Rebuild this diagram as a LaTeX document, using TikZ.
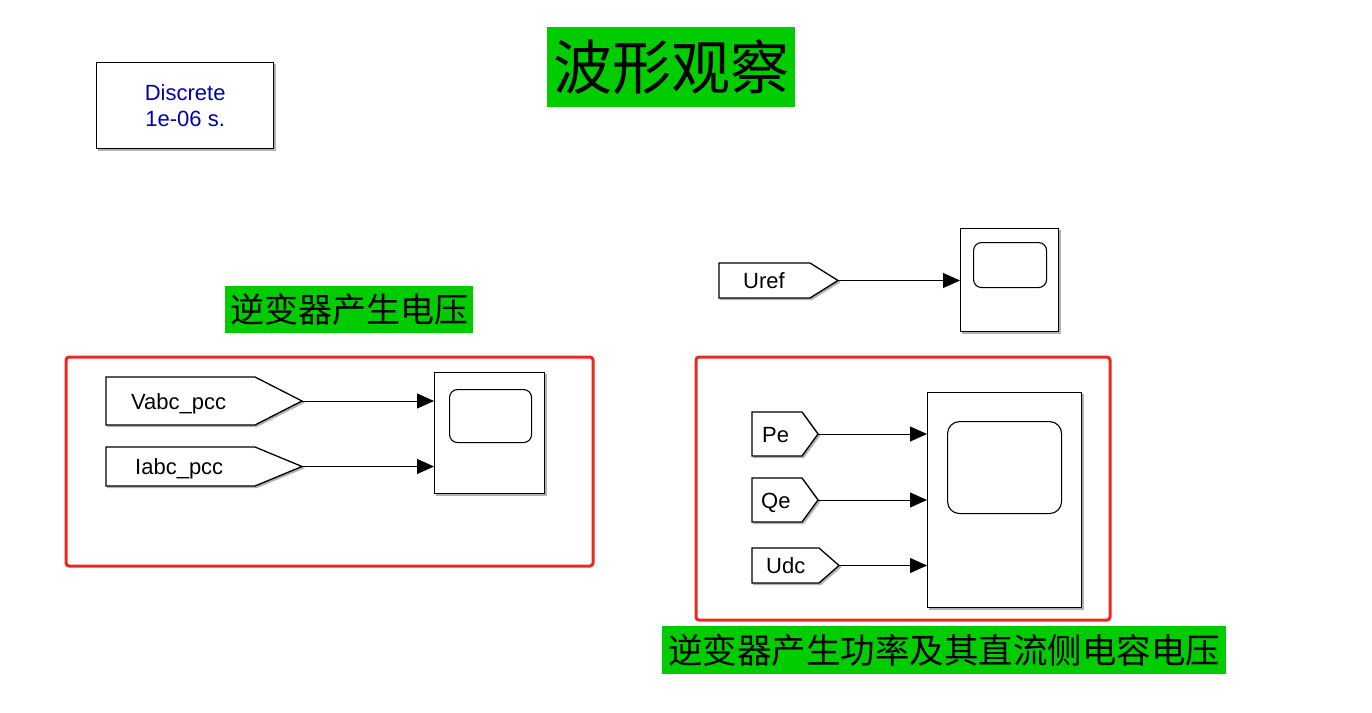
\documentclass[tikz,border=0pt]{standalone}
\usepackage{fontspec}
\setmainfont{Liberation Sans}
\newfontfamily\cjk{Noto Sans CJK SC}
\usetikzlibrary{arrows.meta}
\definecolor{sgreen}{RGB}{0,204,0}
\definecolor{sred}{RGB}{232,42,32}
\definecolor{sblue}{RGB}{0,0,175}
\begin{document}
\begin{tikzpicture}[x=1pt,y=-1pt,
  shad/.style={preaction={draw=black!30,fill=black!30,line width=1.2pt,transform canvas={shift={(1.6pt,-1.6pt)}}}},
  blk/.style={draw=black,line width=1.3pt,fill=white,shad},
  screen/.style={draw=black,line width=1.1pt,rounded corners=8pt,anchor=north west,inner sep=0},
  sig/.style={-{Triangle[length=17pt,width=15pt]},line width=1pt},
  lbl/.style={font=\fontsize{22}{27}\selectfont,anchor=base west,inner sep=0},
  grn/.style={fill=sgreen,inner sep=0,text=black},
  redbox/.style={draw=sred,line width=3pt,rounded corners=3pt}]
\useasboundingbox (0,0) rectangle (1372,712);

% powergui
\node[blk,anchor=north west,minimum width=177,minimum height=86,text=sblue,align=center,
      font=\fontsize{22}{26}\selectfont] (pg) at (96,62) {Discrete\\1e-06 s.};

% titles
\node[grn,minimum width=248,minimum height=80,font=\cjk\fontsize{59}{59}\selectfont] (title) at (671,67) {波形观察};
\node[grn,minimum width=248,minimum height=47,font=\cjk\fontsize{34}{34}\selectfont] (lab1) at (349,309.5) {逆变器产生电压};
\node[grn,minimum width=564,minimum height=48,font=\cjk\fontsize{34.5}{34.5}\selectfont] (lab2) at (944,650) {逆变器产生功率及其直流侧电容电压};

% red frames
\draw[redbox] (66,357) rectangle (593,566);
\draw[redbox] (696,357) rectangle (1110,620);

% left group
\draw[blk] (106,377) -- (255,377) -- (302,401) -- (255,425) -- (106,425) -- cycle;
\coordinate (vt) at (302,401);
\node[lbl] (vtxt) at (131,409) {Vabc\_pcc};
\draw[blk] (106,447) -- (255,447) -- (302,466.5) -- (255,486) -- (106,486) -- cycle;
\coordinate (it) at (302,466.5);
\node[lbl] (itxt) at (135,474) {Iabc\_pcc};
\node[blk,anchor=north west,minimum width=110,minimum height=121,inner sep=0] (sc1) at (434,372) {};
\node[screen,minimum width=82,minimum height=53] (scr1) at (449,389) {};
\draw[sig] (vt) -- (vt -| sc1.west);
\draw[sig] (it) -- (it -| sc1.west);

% Uref
\draw[blk] (719,263) -- (810,263) -- (838,280.5) -- (810,298) -- (719,298) -- cycle;
\coordinate (ut) at (838,280.5);
\node[lbl] (utxt) at (743,288) {Uref};
\node[blk,anchor=north west,minimum width=98,minimum height=103,inner sep=0] (sc2) at (960,228) {};
\node[screen,minimum width=73,minimum height=45] (scr2) at (973,242) {};
\draw[sig] (ut) -- (ut -| sc2.west);

% right group
\draw[blk] (752,412) -- (802,412) -- (818,434) -- (802,456) -- (752,456) -- cycle;
\coordinate (pt) at (818,434);
\node[lbl] (ptxt) at (762,442) {Pe};
\draw[blk] (752,478) -- (802,478) -- (818,500) -- (802,522) -- (752,522) -- cycle;
\coordinate (qt) at (818,500);
\node[lbl] (qtxt) at (761,508) {Qe};
\draw[blk] (752,548) -- (819,548) -- (839,565.5) -- (819,583) -- (752,583) -- cycle;
\coordinate (dt) at (839,565.5);
\node[lbl] (dtxt) at (766,573) {Udc};
\node[blk,anchor=north west,minimum width=154,minimum height=215,inner sep=0] (sc3) at (927,392) {};
\node[screen,rounded corners=12pt,minimum width=114,minimum height=92] (scr3) at (947,421) {};
\draw[sig] (pt) -- (pt -| sc3.west);
\draw[sig] (qt) -- (qt -| sc3.west);
\draw[sig] (dt) -- (dt -| sc3.west);
\end{tikzpicture}
\end{document}
